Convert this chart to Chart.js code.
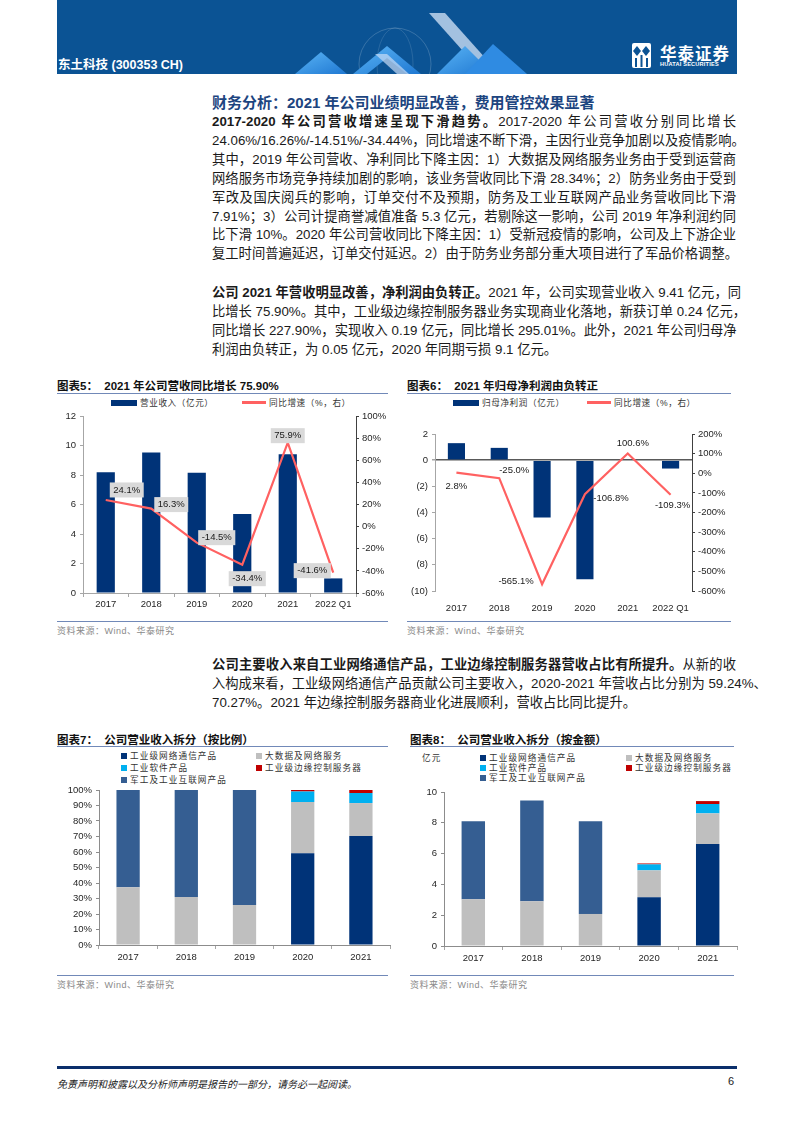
<!DOCTYPE html>
<html lang="zh-CN">
<head>
<meta charset="utf-8">
<title>东土科技 财务分析</title>
<script src="https://cdn.jsdelivr.net/npm/chart.js@4.4.1/dist/chart.umd.min.js"></script>
<style>
  html, body { margin: 0; padding: 0; background: #fff; }
  body {
    width: 793px; height: 1122px; position: relative; overflow: hidden;
    font-family: "Liberation Sans", "Noto Sans CJK SC", sans-serif; color: #1a1a1a;
  }
  .abs { position: absolute; }
  .header { left: 57px; top: 0; width: 680px; height: 74px; background: #0b5394; overflow: hidden; }
  .stock { left: 58px; top: 54px; color: #fff; font-size: 12.5px; font-weight: bold; }
  .brand { left: 660px; top: 41px; color: #fff; font-size: 16.5px; font-weight: bold; letter-spacing: 1px; }
  .brand-en { left: 660px; top: 61px; color: #fff; font-size: 5.6px; font-weight: bold; letter-spacing: 0.2px; }
  .h1 { left: 212px; top: 91px; font-size: 15px; font-weight: bold; color: #1d4580; }
  .para { left: 212px; width: 524px; font-size: 13.3px; line-height: 18.9px; }
  .para div { text-align: justify; text-align-last: justify; white-space: nowrap; }
  .para div.end { text-align-last: left; }
  .para b { font-weight: bold; }
  .ctitle { font-size: 11.5px; font-weight: bold; color: #111; white-space: nowrap; }
  .rule { height: 1px; background: #7189b8; }
  .src { font-size: 9px; color: #8a8a8a; letter-spacing: 0.5px; }
  .lg { font-size: 8.6px; color: #333; letter-spacing: 0.6px; white-space: nowrap; line-height: 11px; }
  .lg.wide { letter-spacing: 1.1px; }
  .lg i { display: inline-block; vertical-align: middle; margin-right: 3px; position: relative; top: -1px; }
  .foot-rule { left: 57px; top: 1066px; width: 680px; height: 3px; background: #0b2f6b; }
  .foot { left: 57px; top: 1076px; font-size: 10px; font-style: italic; color: #222; }
  .pno { left: 728px; top: 1075px; font-size: 11px; color: #222; }
</style>
</head>
<body>

<div class="abs header">
  <svg width="680" height="74" style="position:absolute;left:0;top:0">
    <defs>
      <linearGradient id="tri" x1="0" y1="0" x2="1" y2="1">
        <stop offset="0" stop-color="#5ab4f5"/>
        <stop offset="1" stop-color="#1f78d2"/>
      </linearGradient>
    </defs>
    <circle cx="338" cy="64" r="36" fill="none" stroke="rgba(255,255,255,0.18)" stroke-width="1"/>
    <ellipse cx="338" cy="64" rx="18" ry="36" fill="none" stroke="rgba(255,255,255,0.12)" stroke-width="1"/>
    <polygon points="238,74 264,52 290,74" fill="url(#tri)"/>
    <polygon points="296,74 330,46 364,74 350,74 330,58 310,74" fill="url(#tri)"/>
    <polygon points="318,54 330,54 352,74 340,74" fill="rgba(200,220,245,0.7)"/>
    <polygon points="372,13 388,13 430,60 414,60" fill="rgba(215,230,250,0.75)"/>
    <polygon points="380,74 408,46 436,74" fill="url(#tri)"/>
    <polygon points="408,74 436,44 470,74" fill="#2f8be2"/>
  </svg>
</div>
<div class="abs stock">东土科技 (300353 CH)</div>
<svg class="abs" style="left:632px;top:43px" width="19" height="25">
  <rect x="0" y="0" width="19" height="25" rx="2" fill="#fff"/>
  <polygon points="5,3 9,8 5,13 1,8" fill="#0b5394"/>
  <polygon points="14,3 18,8 14,13 10,8" fill="#0b5394"/>
  <rect x="3" y="15" width="2" height="9" fill="#0b5394"/>
  <rect x="8.5" y="12" width="2" height="12" fill="#0b5394"/>
  <rect x="14" y="15" width="2" height="9" fill="#0b5394"/>
</svg>
<div class="abs brand">华泰证券</div>
<div class="abs brand-en">HUATAI SECURITIES</div>

<div class="abs h1">财务分析：2021 年公司业绩明显改善，费用管控效果显著</div>

<div class="abs para" style="top:113px">
  <div><b>2017-2020 年公司营收增速呈现下滑趋势。</b>2017-2020 年公司营收分别同比增长</div>
  <div>24.06%/16.26%/-14.51%/-34.44%，同比增速不断下滑，主因行业竞争加剧以及疫情影响。</div>
  <div>其中，2019 年公司营收、净利同比下降主因：1）大数据及网络服务业务由于受到运营商</div>
  <div>网络服务市场竞争持续加剧的影响，该业务营收同比下滑 28.34%；2）防务业务由于受到</div>
  <div>军改及国庆阅兵的影响，订单交付不及预期，防务及工业互联网产品业务营收同比下滑</div>
  <div>7.91%；3）公司计提商誉减值准备 5.3 亿元，若剔除这一影响，公司 2019 年净利润约同</div>
  <div>比下滑 10%。2020 年公司营收同比下降主因：1）受新冠疫情的影响，公司及上下游企业</div>
  <div>复工时间普遍延迟，订单交付延迟。2）由于防务业务部分重大项目进行了军品价格调整。</div>
</div>

<div class="abs para" style="top:284px">
  <div><b>公司 2021 年营收明显改善，净利润由负转正。</b>2021 年，公司实现营业收入 9.41 亿元，同</div>
  <div>比增长 75.90%。其中，工业级边缘控制服务器业务实现商业化落地，新获订单 0.24 亿元，</div>
  <div>同比增长 227.90%，实现收入 0.19 亿元，同比增长 295.01%。此外，2021 年公司归母净</div>
  <div class="end">利润由负转正，为 0.05 亿元，2020 年同期亏损 9.1 亿元。</div>
</div>

<!-- 图表5 -->
<div class="abs ctitle" style="left:57px;top:377px">图表5：&nbsp;&nbsp;2021 年公司营收同比增长 75.90%</div>
<div class="abs rule" style="left:57px;top:393px;width:331px"></div>
<div class="abs lg" style="left:111px;top:398px"><i style="width:26px;height:6px;background:#003378"></i>营业收入（亿元）</div>
<div class="abs lg" style="left:242px;top:398px"><i style="width:24px;height:2.5px;background:#ff6161"></i>同比增速（%，右）</div>
<canvas id="c5" class="abs" style="left:52px;top:405px" width="340" height="212"></canvas>
<div class="abs rule" style="left:57px;top:621px;width:331px"></div>
<div class="abs src" style="left:57px;top:624px">资料来源：Wind、华泰研究</div>

<!-- 图表6 -->
<div class="abs ctitle" style="left:407px;top:377px">图表6：&nbsp;&nbsp;2021 年归母净利润由负转正</div>
<div class="abs rule" style="left:407px;top:393px;width:324px"></div>
<div class="abs lg" style="left:453px;top:398px"><i style="width:26px;height:6px;background:#003378"></i>归母净利润（亿元）</div>
<div class="abs lg" style="left:587px;top:398px"><i style="width:24px;height:2.5px;background:#ff6161"></i>同比增速（%，右）</div>
<canvas id="c6" class="abs" style="left:400px;top:420px" width="340" height="195"></canvas>
<div class="abs rule" style="left:407px;top:621px;width:324px"></div>
<div class="abs src" style="left:407px;top:624px">资料来源：Wind、华泰研究</div>

<div class="abs para" style="top:656px">
  <div><b>公司主要收入来自工业网络通信产品，工业边缘控制服务器营收占比有所提升。</b>从新的收</div>
  <div>入构成来看，工业级网络通信产品贡献公司主要收入，2020-2021 年营收占比分别为 59.24%、</div>
  <div class="end">70.27%。2021 年边缘控制服务器商业化进展顺利，营收占比同比提升。</div>
</div>

<!-- 图表7 -->
<div class="abs ctitle" style="left:57px;top:731px">图表7：&nbsp;&nbsp;公司营业收入拆分（按比例）</div>
<div class="abs rule" style="left:57px;top:746px;width:331px"></div>
<div class="abs lg wide" style="left:121px;top:751px"><i style="width:6px;height:6px;background:#003378"></i>工业级网络通信产品</div>
<div class="abs lg wide" style="left:256px;top:751px"><i style="width:6px;height:6px;background:#bfbfbf"></i>大数据及网络服务</div>
<div class="abs lg wide" style="left:121px;top:763px"><i style="width:6px;height:6px;background:#00b0f0"></i>工业软件产品</div>
<div class="abs lg wide" style="left:256px;top:763px"><i style="width:6px;height:6px;background:#c00000"></i>工业级边缘控制服务器</div>
<div class="abs lg wide" style="left:121px;top:775px"><i style="width:6px;height:6px;background:#355e92"></i>军工及工业互联网产品</div>
<canvas id="c7" class="abs" style="left:55px;top:780px" width="340" height="192"></canvas>
<div class="abs rule" style="left:57px;top:975px;width:331px"></div>
<div class="abs src" style="left:57px;top:978px">资料来源：Wind、华泰研究</div>

<!-- 图表8 -->
<div class="abs ctitle" style="left:410px;top:731px">图表8：&nbsp;&nbsp;公司营业收入拆分（按金额）</div>
<div class="abs rule" style="left:410px;top:746px;width:324px"></div>
<div class="abs lg wide" style="left:422px;top:753px">亿元</div>
<div class="abs lg wide" style="left:480px;top:753px"><i style="width:6px;height:6px;background:#003378"></i>工业级网络通信产品</div>
<div class="abs lg wide" style="left:626px;top:753px"><i style="width:6px;height:6px;background:#bfbfbf"></i>大数据及网络服务</div>
<div class="abs lg wide" style="left:480px;top:763px"><i style="width:6px;height:6px;background:#00b0f0"></i>工业软件产品</div>
<div class="abs lg wide" style="left:626px;top:763px"><i style="width:6px;height:6px;background:#c00000"></i>工业级边缘控制服务器</div>
<div class="abs lg wide" style="left:480px;top:773px"><i style="width:6px;height:6px;background:#355e92"></i>军工及工业互联网产品</div>
<canvas id="c8" class="abs" style="left:400px;top:780px" width="345" height="192"></canvas>
<div class="abs rule" style="left:410px;top:975px;width:324px"></div>
<div class="abs src" style="left:410px;top:978px">资料来源：Wind、华泰研究</div>

<div class="abs foot-rule"></div>
<div class="abs foot">免责声明和披露以及分析师声明是报告的一部分，请务必一起阅读。</div>
<div class="abs pno">6</div>

<script>
// 图表5：营业收入与同比增速
const years5 = ["2017", "2018", "2019", "2020", "2021", "2022 Q1"];
const revenue5 = [8.18, 9.52, 8.15, 5.35, 9.41, 0.99];
const growth5 = [24.1, 16.3, -14.5, -34.4, 75.9, -41.6];

// 图表6：归母净利润与同比增速
const years6 = ["2017", "2018", "2019", "2020", "2021", "2022 Q1"];
const profit6 = [1.30, 0.94, -4.39, -9.10, 0.05, -0.64];
const growth6 = [2.8, -25.0, -565.1, -106.8, 100.6, -109.3];

// 图表7：收入拆分（按比例，%）
const years7 = ["2017", "2018", "2019", "2020", "2021"];
const netComm7 = [0, 0, 0, 59.24, 70.27];
const bigData7 = [37.3, 31.0, 25.8, 33.0, 21.3];
const military7 = [62.7, 69.0, 74.2, 0, 0];
const software7 = [0, 0, 0, 6.8, 6.5];
const edge7 = [0, 0, 0, 0.96, 1.93];

// 图表8：收入拆分（按金额，亿元）
const years8 = ["2017", "2018", "2019", "2020", "2021"];
const netComm8 = [0, 0, 0, 3.16, 6.62];
const bigData8 = [3.03, 2.90, 2.08, 1.75, 1.99];
const military8 = [5.07, 6.54, 6.02, 0, 0];
const software8 = [0, 0, 0, 0.39, 0.61];
const edge8 = [0, 0, 0, 0.06, 0.19];

const NAVY = "#003378";
const RED_LINE = "#ff6161";
const GRAY = "#bfbfbf";
const STEEL = "#355e92";
const CYAN = "#00b0f0";
const DARK_RED = "#c00000";

Chart.defaults.font.family = "'Liberation Sans', 'Noto Sans CJK SC', sans-serif";
Chart.defaults.font.size = 9.5;
Chart.defaults.color = "#262626";
Chart.defaults.animation = false;

// draws the % value next to each point of one line dataset
const pointLabels = {
  id: "pointLabels",
  afterDatasetsDraw(chart, args, opts) {
    const ds = chart.data.datasets[opts.datasetIndex];
    const meta = chart.getDatasetMeta(opts.datasetIndex);
    const ctx = chart.ctx;
    ctx.save();
    ctx.font = "9.5px 'Liberation Sans', sans-serif";
    ctx.textAlign = "center";
    ctx.textBaseline = "middle";
    meta.data.forEach((pt, i) => {
      const text = ds.data[i].toFixed(1) + "%";
      const x = pt.x + opts.offsets[i][0];
      const y = pt.y + opts.offsets[i][1];
      if (opts.box) {
        const w = ctx.measureText(text).width + 7;
        ctx.fillStyle = opts.box;
        ctx.fillRect(x - w / 2, y - 7.5, w, 15);
      }
      ctx.fillStyle = "#1a1a1a";
      ctx.fillText(text, x, y);
    });
    ctx.restore();
  }
};

function fixWidth(w) { return s => { s.width = w; }; }
function fixHeight(h) { return s => { s.height = h; }; }

// 图表5
new Chart(document.getElementById("c5"), {
  type: "bar",
  data: {
    labels: years5,
    datasets: [
      { type: "line", label: "同比增速（%，右）", data: growth5, yAxisID: "y1",
        borderColor: RED_LINE, borderWidth: 2.2, pointRadius: 0, tension: 0, order: 0 },
      { label: "营业收入（亿元）", data: revenue5, yAxisID: "y", backgroundColor: NAVY,
        categoryPercentage: 1, barPercentage: 0.4, order: 1 }
    ]
  },
  options: {
    responsive: false,
    layout: { padding: { top: 11, left: 0, right: 0, bottom: 0 } },
    plugins: {
      legend: { display: false }, tooltip: { enabled: false },
      pointLabels: { datasetIndex: 0, box: "#d9d9d9",
        offsets: [[21, -10], [20, -4], [20, -5], [5, 14], [0, -7], [-21, -2]] }
    },
    scales: {
      x: { grid: { drawOnChartArea: false, tickLength: 4, color: "#a6a6a6" },
           border: { color: "#a6a6a6" }, ticks: { padding: 2 }, afterFit: fixHeight(24) },
      y: { min: 0, max: 12, ticks: { stepSize: 2, padding: 4 },
           grid: { drawOnChartArea: false, tickLength: 3, color: "#a6a6a6" },
           border: { color: "#a6a6a6" }, afterFit: fixWidth(31) },
      y1: { position: "right", min: -60, max: 100,
            ticks: { stepSize: 20, padding: 3, callback: v => v + "%" },
            grid: { drawOnChartArea: false, tickLength: 3, color: "#404040" },
            border: { color: "#404040" }, afterFit: fixWidth(36) }
    }
  },
  plugins: [pointLabels]
});

// 图表6
new Chart(document.getElementById("c6"), {
  type: "bar",
  data: {
    labels: years6,
    datasets: [
      { type: "line", label: "同比增速（%，右）", data: growth6, yAxisID: "y1",
        borderColor: RED_LINE, borderWidth: 2.2, pointRadius: 0, tension: 0, order: 0 },
      { label: "归母净利润（亿元）", data: profit6, yAxisID: "y", backgroundColor: NAVY,
        categoryPercentage: 1, barPercentage: 0.4, order: 1 }
    ]
  },
  options: {
    responsive: false,
    layout: { padding: { top: 14, left: 0, right: 0, bottom: 0 } },
    plugins: {
      legend: { display: false }, tooltip: { enabled: false },
      pointLabels: { datasetIndex: 0, box: null,
        offsets: [[0, 14], [15, -8], [-26, -3], [26, 4], [5, -10], [2, 11]] }
    },
    scales: {
      x: { grid: { display: false }, border: { display: false },
           ticks: { padding: 4 }, afterFit: fixHeight(24) },
      y: { min: -10, max: 2,
           ticks: { stepSize: 2, padding: 4, callback: v => v < 0 ? "(" + (-v) + ")" : v },
           grid: { drawOnChartArea: true, tickLength: 3, tickColor: "#a6a6a6",
                   color: c => c.tick && c.tick.value === 0 ? "#595959" : "rgba(0,0,0,0)",
                   lineWidth: c => c.tick && c.tick.value === 0 ? 1.5 : 1 },
           border: { color: "#a6a6a6" }, afterFit: fixWidth(35) },
      y1: { position: "right", min: -600, max: 200,
            ticks: { stepSize: 100, padding: 3, callback: v => v + "%" },
            grid: { drawOnChartArea: false, tickLength: 3, color: "#404040" },
            border: { color: "#404040" }, afterFit: fixWidth(48) }
    }
  },
  plugins: [pointLabels]
});

function stackSets(netComm, bigData, military, software, edge) {
  const common = { categoryPercentage: 1, barPercentage: 0.4, stack: "s" };
  return [
    { label: "工业级网络通信产品", data: netComm, backgroundColor: NAVY, ...common },
    { label: "大数据及网络服务", data: bigData, backgroundColor: GRAY, ...common },
    { label: "军工及工业互联网产品", data: military, backgroundColor: STEEL, ...common },
    { label: "工业软件产品", data: software, backgroundColor: CYAN, ...common },
    { label: "工业级边缘控制服务器", data: edge, backgroundColor: DARK_RED, ...common }
  ];
}

function stackOptions(yMax, step, fmt, leftW, pad, xH) {
  return {
    responsive: false,
    layout: { padding: { top: pad.top, right: pad.right, left: 0, bottom: 0 } },
    plugins: { legend: { display: false }, tooltip: { enabled: false } },
    scales: {
      x: { stacked: true, grid: { drawOnChartArea: false, tickLength: 4, color: "#a6a6a6" },
           border: { color: "#8c8c8c" }, ticks: { padding: 3 }, afterFit: fixHeight(xH) },
      y: { stacked: true, min: 0, max: yMax, ticks: { stepSize: step, padding: 4, callback: fmt },
           grid: { drawOnChartArea: false, tickLength: 3, color: "#8c8c8c" },
           border: { color: "#8c8c8c" }, afterFit: fixWidth(leftW) }
    }
  };
}

// 图表7
new Chart(document.getElementById("c7"), {
  type: "bar",
  data: { labels: years7, datasets: stackSets(netComm7, bigData7, military7, software7, edge7) },
  options: stackOptions(100, 10, v => v + "%", 44, { top: 10, right: 5 }, 27)
});

// 图表8
new Chart(document.getElementById("c8"), {
  type: "bar",
  data: { labels: years8, datasets: stackSets(netComm8, bigData8, military8, software8, edge8) },
  options: stackOptions(10, 2, v => v, 44, { top: 12, right: 8 }, 26)
});
</script>
</body>
</html>
